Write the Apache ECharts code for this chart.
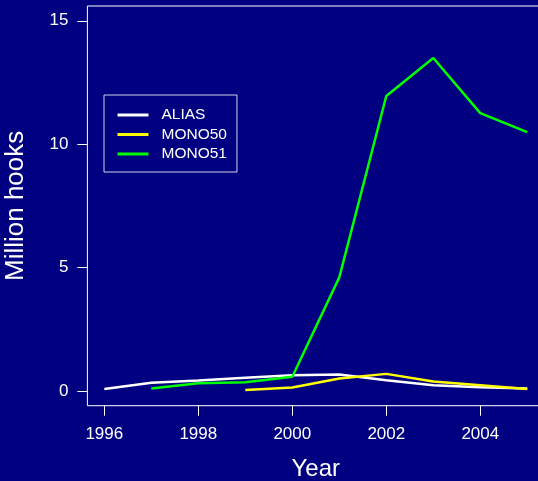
<!DOCTYPE html>
<html>
<head>
<meta charset="utf-8">
<script src="https://cdn.jsdelivr.net/npm/echarts@6/dist/echarts.min.js"></script>
<style>
html,body{margin:0;padding:0;background:#000080;}
#chart{width:538px;height:481px;}
</style>
</head>
<body>
<div id="chart"></div>
<script>
var years = [1996, 1997, 1998, 1999, 2000, 2001, 2002, 2003, 2004, 2005];
var alias = [0.08, 0.33, 0.42, 0.53, 0.63, 0.66, 0.43, 0.23, 0.15, 0.10];
var mono50 = [null, null, null, 0.04, 0.14, 0.50, 0.69, 0.38, 0.23, 0.08];
var mono51 = [null, 0.10, 0.31, 0.35, 0.57, 4.60, 11.95, 13.49, 11.26, 10.49];
var xTicks = [1996, 1998, 2000, 2002, 2004];
var yTicks = [0, 5, 10, 15];
var seriesNames = ['ALIAS', 'MONO50', 'MONO51'];
var seriesColors = ['#ffffff', '#ffff00', '#00ff00'];

function pairs(vals) {
  var out = [];
  for (var i = 0; i < years.length; i++) {
    if (vals[i] !== null) out.push([years[i], vals[i]]);
  }
  return out;
}
var allVals = [alias, mono50, mono51];

var chart = echarts.init(document.getElementById('chart'), null, {renderer: 'canvas'});
var font = 'Liberation Sans, Arial, Helvetica, sans-serif';
chart.setOption({
  backgroundColor: '#000080',
  animation: false,
  textStyle: {fontFamily: font},
  grid: {
    left: 87.4, top: 6, width: 456.8, height: 399.7,
    containLabel: false, outerBoundsMode: 'none',
    show: true, borderColor: '#ffffff', borderWidth: 1, backgroundColor: 'transparent'
  },
  legend: {
    orient: 'vertical',
    left: 104, top: 95,
    padding: [12, 10, 10, 13.5],
    itemWidth: 31, itemHeight: 3, itemGap: 3.5,
    icon: 'rect',
    borderColor: '#d0d0e8', borderWidth: 1,
    textStyle: {color: '#ffffff', fontSize: 15.5, lineHeight: 15.5, fontFamily: font, padding: [0, 0, 0, 8]},
    data: seriesNames
  },
  xAxis: {
    type: 'value', min: 1995.64, max: 2005.36,
    name: 'Year', nameLocation: 'middle', nameGap: 52,
    nameTextStyle: {color: '#ffffff', fontSize: 24, fontFamily: font},
    axisLine: {show: false, onZero: false},
    axisTick: {show: true, inside: false, length: 10, lineStyle: {color: '#ffffff', width: 1}, customValues: xTicks},
    axisLabel: {color: '#ffffff', fontSize: 17, margin: 20, customValues: xTicks, formatter: function (v) { return String(v); }},
    splitLine: {show: false}
  },
  yAxis: {
    type: 'value', min: -0.6, max: 15.6,
    name: 'Million hooks', nameLocation: 'middle', nameGap: 59,
    nameTextStyle: {color: '#ffffff', fontSize: 26, fontFamily: font},
    axisLine: {show: false, onZero: false},
    axisTick: {show: true, inside: false, length: 10, lineStyle: {color: '#ffffff', width: 1}, customValues: yTicks},
    axisLabel: {color: '#ffffff', fontSize: 17, margin: 19, customValues: yTicks},
    splitLine: {show: false}
  },
  series: seriesNames.map(function (n, i) {
    return {
      name: n, type: 'line', data: pairs(allVals[i]),
      showSymbol: false, symbol: 'none',
      color: seriesColors[i],
      lineStyle: {color: seriesColors[i], width: 2.5},
      itemStyle: {color: seriesColors[i]}
    };
  })
});
</script>
</body>
</html>
